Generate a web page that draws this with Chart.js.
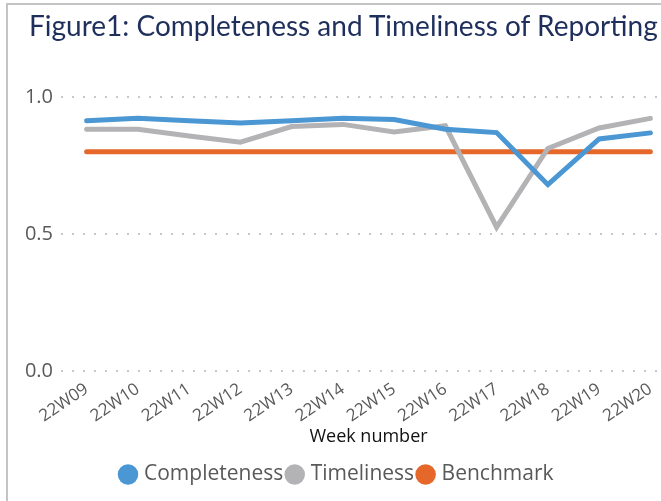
<!DOCTYPE html>
<html>
<head>
<meta charset="utf-8">
<script src="https://cdn.jsdelivr.net/npm/chart.js@4/dist/chart.umd.min.js"></script>
<style>
    html, body { margin: 0; padding: 0; overflow: hidden; background: #fff; width: 661px; height: 501px; }
    #caixa { position: absolute; left: 0; top: 0; width: 676px; height: 501px; }
    #titulo { position: absolute; left: 29px; top: 8px; font-family: Lato, sans-serif; font-size: 28px; color: #1f2f5c; white-space: nowrap; }
    .borda-esq { position: absolute; left: 6px; top: 3px; width: 2px; height: 498px; background: #c4c4c4; }
    .borda-topo { position: absolute; left: 6px; top: 3px; width: 655px; height: 2px; background: #c4c4c4; }
</style>
</head>
<body>
<div id="caixa"><canvas id="grafico"></canvas></div>
<div id="titulo">Figure1: Completeness and Timeliness of Reporting</div>
<div class="borda-esq"></div>
<div class="borda-topo"></div>
<script>
// Dados
const semanas = ["22W09", "22W10", "22W11", "22W12", "22W13", "22W14", "22W15", "22W16", "22W17", "22W18", "22W19", "22W20"];
const completeness = [0.913, 0.922, 0.913, 0.905, 0.913, 0.922, 0.918, 0.882, 0.870, 0.680, 0.847, 0.869];
const timeliness = [0.882, 0.882, 0.858, 0.835, 0.892, 0.900, 0.872, 0.895, 0.525, 0.812, 0.887, 0.922];
const benchmark = [0.8, 0.8, 0.8, 0.8, 0.8, 0.8, 0.8, 0.8, 0.8, 0.8, 0.8, 0.8];
const yTicks = [0.0, 0.5, 1.0];

const cinza = "#595959";

function linha(label, data, cor) {
    return {
        label: label,
        data: data,
        borderColor: cor,
        backgroundColor: cor,
        borderWidth: 5,
        borderCapStyle: "round",
        borderJoinStyle: "miter",
        pointRadius: 0,
        tension: 0,
        fill: false
    };
}

const ctx = document.getElementById("grafico").getContext("2d");
new Chart(ctx, {
    type: "line",
    data: {
        labels: semanas,
        datasets: [
            linha("Completeness", completeness, "#4a97d3"),
            linha("Timeliness", timeliness, "#b3b3b6"),
            linha("Benchmark", benchmark, "#e5672a")
        ]
    },
    options: {
        responsive: true,
        maintainAspectRatio: false,
        animation: false,
        layout: { padding: { left: 0, right: 0, top: 97, bottom: 6 } },
        plugins: {
            legend: {
                position: "bottom",
                labels: {
                    usePointStyle: true,
                    pointStyle: "circle",
                    boxWidth: 11,
                    boxHeight: 11,
                    padding: 6,
                    color: cinza,
                    font: { family: "Open Sans", size: 21 }
                }
            },
            tooltip: { enabled: false }
        },
        scales: {
            x: {
                offset: true,
                grid: { display: false },
                border: { display: false },
                ticks: {
                    color: cinza,
                    font: { family: "Open Sans", size: 17 },
                    minRotation: 34,
                    maxRotation: 34,
                    padding: 0
                },
                title: {
                    display: true,
                    text: "Week number",
                    color: "#111",
                    font: { family: "Open Sans", size: 18 },
                    padding: { top: 0, bottom: 10 }
                }
            },
            y: {
                min: 0,
                max: 1.0,
                afterBuildTicks: (s) => { s.ticks = yTicks.map(v => ({ value: v })); },
                afterFit: (s) => { s.width = 61; },
                grid: {
                    color: "#c8c8c8",
                    lineWidth: 2,
                    drawTicks: false
                },
                border: { display: false, dash: [2, 9] },
                ticks: {
                    color: cinza,
                    font: { family: "Open Sans", size: 20 },
                    padding: 8,
                    callback: (v) => Number(v).toFixed(1)
                }
            }
        }
    }
});
</script>
</body>
</html>
